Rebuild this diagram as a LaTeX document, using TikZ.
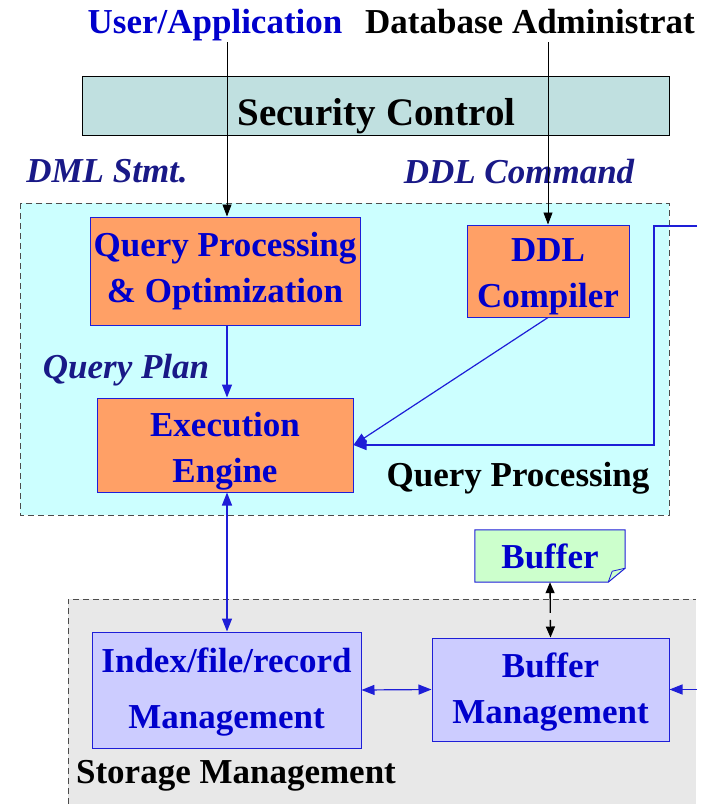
\documentclass[tikz,border=0pt]{standalone}
\usepackage{fontspec}
\setmainfont{Liberation Serif}
\usetikzlibrary{arrows.meta,calc}
\definecolor{txtblue}{RGB}{0,0,204}
\definecolor{lineblue}{RGB}{30,30,215}
\definecolor{navy}{RGB}{25,25,135}
\definecolor{secfill}{RGB}{192,224,224}
\definecolor{qpfill}{RGB}{204,255,255}
\definecolor{orangefill}{RGB}{255,160,102}
\definecolor{smfill}{RGB}{232,232,232}
\definecolor{lavfill}{RGB}{204,204,255}
\definecolor{greenfill}{RGB}{204,255,204}
\tikzset{
  bigfont/.style={font=\fontsize{35}{46}\selectfont\bfseries},
  procbox/.style={draw=lineblue, fill=orangefill, line width=1pt, inner sep=0pt, align=center, text=txtblue, bigfont},
  storbox/.style={draw=lineblue, fill=lavfill, line width=1pt, inner sep=0pt, align=center, text=txtblue, bigfont},
  boxtext/.style={inner sep=0pt, align=center, text=txtblue, bigfont},
  lbl/.style={anchor=base, inner sep=0pt, bigfont},
  ilbl/.style={anchor=base, inner sep=0pt, text=navy, font=\fontsize{35}{42}\selectfont\bfseries\itshape},
  blk/.style={draw=black, line width=0.8pt, -{Triangle[length=12pt,width=9pt]}},
  bl/.style={draw=lineblue, line width=1.2pt, -{Triangle[length=13pt,width=10pt]}},
  bbl/.style={draw=lineblue, line width=1.2pt, {Triangle[length=13pt,width=10pt]}-{Triangle[length=13pt,width=10pt]}},
  region/.style={dashed, dash pattern=on 6pt off 4pt, draw=black!70, line width=0.8pt}
}
\begin{document}
\begin{tikzpicture}[x=1pt,y=-1pt]
\useasboundingbox (0,0) rectangle (711,804);
% regions
\fill[qpfill] (20,203) rectangle (669,515);
\draw[region] (20,203) rectangle (669,515);
\fill[smfill] (68,599) rectangle (696,804);
\draw[region] (68,804) -- (68,599) -- (696,599);
% top labels
\node[lbl, text=txtblue] (user) at (215,33) {User/Application};
\node[lbl, text=black] (dba) at (530,33) {Database Administrat};
% security
\node[draw=black, fill=secfill, line width=0.8pt, minimum width=587pt, minimum height=59pt, inner sep=0pt] (sec) at (375.5,105.5) {};
\node[lbl, font=\fontsize{39}{46}\selectfont\bfseries] (sectxt) at (376.5,125) {Security Control};
\node[ilbl] (dml) at (107,182) {DML Stmt.};
\node[ilbl] (ddlc) at (519,183) {DDL Command};
% query processing boxes
\node[procbox, minimum width=270pt, minimum height=108pt] (qpo) at (225,271) {Query Processing\\\& Optimization};
\node[procbox, minimum width=162pt, minimum height=92pt] (ddl) at (548,271) {};
\node[boxtext] (ddltxt) at ($(ddl.center)+(0,6)$) {DDL\\Compiler};
\node[ilbl] (qplan) at (126,378) {Query Plan};
\node[procbox, minimum width=256pt, minimum height=94pt] (ee) at (225,445) {};
\node[boxtext] (eetxt) at ($(ee.center)+(0,6)$) {Execution\\Engine};
\node[lbl, text=black] (qptxt) at (518,486) {Query Processing};
% buffer note
\node[inner sep=0pt, minimum width=150pt, minimum height=52pt] (buf) at (550,556) {};
\fill[greenfill] (buf.north west) -- (buf.north east) -- ($(buf.south east)+(0,-14)$) -- ($(buf.south east)+(-17,0)$) -- (buf.south west) -- cycle;
\draw[lineblue, line width=1pt] (buf.north west) -- (buf.north east) -- ($(buf.south east)+(0,-14)$) -- ($(buf.south east)+(-17,0)$) -- (buf.south west) -- cycle;
\draw[lineblue, line width=0.8pt] ($(buf.south east)+(-17,0)$) -- ($(buf.south east)+(-13,-11)$) -- ($(buf.south east)+(0,-14)$);
\node[boxtext] (buftxt) at (buf) {Buffer};
% storage boxes
\node[storbox, minimum width=269pt, minimum height=116pt] (idx) at (226.5,690) {};
\node[boxtext] (idxtxt) at ($(idx.center)+(0,2)$) {Index/file/record\\[10pt]Management};
\node[storbox, minimum width=237pt, minimum height=103pt] (bm) at (550.5,689.5) {};
\node[boxtext] (bmtxt) at ($(bm.center)+(0,3)$) {Buffer\\Management};
\node[lbl, text=black] (smtxt) at (236,783) {Storage Management};
% connectors
\coordinate (ua) at (227,42);
\coordinate (da) at (548,42);
\draw[blk] (ua) -- (qpo.north -| ua);
\draw[blk] (da) -- (ddl.north);
\draw[bl] (qpo.south -| ua) -- (ee.north -| ua);
\draw[bl] (ddl.south) -- (ee.east);
\coordinate (rin) at (697,226);
\draw[bl] (rin) -- (654,226) -- (654,445) -- (ee.east);
\draw[bbl] (ee.south -| ua) -- (idx.north -| ua);
\draw[bbl] (idx.east) -- (bm.west);
\coordinate (rin2) at (697,689.5);
\draw[bl] (rin2) -- (bm.east);
\draw[black, line width=1.3pt, dash pattern=on 20pt off 7pt, {Triangle[length=11pt,width=9pt]}-{Triangle[length=11pt,width=9pt]}] (buf.south) -- (bm.north);
\end{tikzpicture}
\end{document}
